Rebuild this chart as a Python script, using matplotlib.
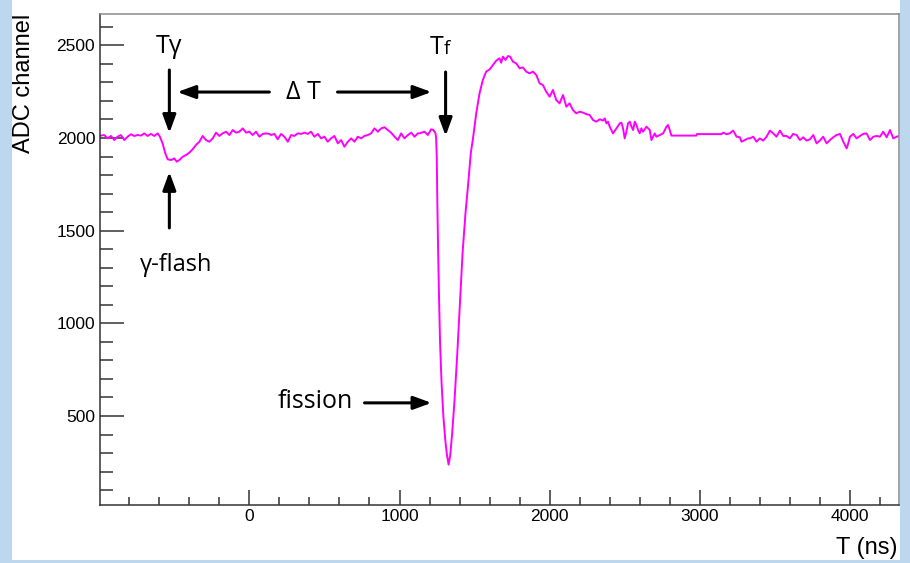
import matplotlib
matplotlib.use("Agg")
import matplotlib.pyplot as plt
from matplotlib.patches import Rectangle
from matplotlib.ticker import MultipleLocator

# waveform: time (ns) and ADC value
t_ns = [-1000, -967, -944, -922, -900, -878, -856, -833, -811, -789, -767, -744, -722, -700,
        -678, -656, -633, -611, -596, -578, -560, -544, -522, -500, -484, -467, -444, -422,
        -400, -378, -356, -333, -311, -289, -267, -244, -222, -200, -178, -156, -133, -111,
        -89, -67, -44, -22, 0, 22, 44, 67, 89, 111, 133,
        144, 167, 189, 211, 233, 256, 278, 300, 322, 344, 367, 389, 411, 433, 456, 478, 500,
        522, 544, 567, 589, 611, 633, 656, 678, 700, 722, 744, 767, 789, 811, 833, 856, 878,
        900, 922, 944, 967, 989, 1011, 1033, 1056, 1078, 1100, 1122,
        1133, 1166, 1189, 1211, 1226, 1240,
        1244, 1248, 1252, 1257, 1263, 1270, 1280, 1292, 1305, 1316, 1327, 1338, 1350, 1366,
        1385, 1402, 1420, 1440, 1456, 1475, 1489,
        1511, 1533, 1555, 1577, 1600, 1622, 1644, 1666, 1677, 1689, 1706, 1722, 1737, 1755,
        1777, 1800, 1822, 1844, 1866, 1889, 1911, 1933, 1955, 1977, 2000, 2022, 2044, 2066,
        2089, 2111, 2133, 2155, 2177, 2200, 2222, 2244,
        2267, 2289, 2311, 2334, 2356, 2367, 2378, 2389, 2400, 2411, 2422, 2445, 2467, 2478,
        2489, 2500, 2511, 2522, 2534, 2545, 2556, 2567, 2578, 2589, 2600, 2611, 2622, 2645,
        2667, 2678, 2689, 2700, 2711, 2734, 2756, 2767, 2778, 2789, 2800, 2811,
        2978, 2980, 3145,
        3156, 3178, 3200, 3222, 3233, 3245, 3267, 3278, 3300, 3322, 3334, 3356, 3378, 3400,
        3422, 3445, 3467, 3489, 3511, 3534, 3556, 3578, 3600, 3622, 3645, 3667, 3689, 3711,
        3734, 3756, 3778, 3800, 3822, 3845, 3867, 3889, 3911, 3934, 3956, 3978, 3989, 4000,
        4022, 4045, 4067, 4089, 4111, 4134, 4156, 4178, 4200, 4222, 4245, 4267, 4289, 4311,
        4329]
adc = [2011, 2016, 1998, 2011, 1989, 2007, 2016, 1989, 2007, 2020, 2011, 2016, 2013, 2025,
       2011, 2022, 2011, 2025, 2007, 1971, 1917, 1885, 1881, 1890, 1872, 1881, 1899, 1908,
       1921, 1939, 1962, 1980, 2011, 1989, 1980, 1998, 2029, 2011, 2025, 2034, 2016, 2043,
       2029, 2034, 2052, 2029, 2034, 2016, 2034, 2007, 2022, 2025, 2022,
       2016, 2022, 1993, 2022, 2007, 1980, 2016, 2011, 2025, 2022, 2029, 2022, 2034, 2007,
       2022, 1998, 2007, 1980, 1998, 2011, 1971, 1989, 1953, 1980, 1998, 1980, 2007, 1998,
       2011, 2016, 2025, 2052, 2034, 2052, 2058, 2043, 2029, 2007, 1989, 2025, 1998, 2016,
       2029, 2007, 2025,
       2025, 2034, 2016, 2047, 2043, 2025,
       1995, 1900, 1650, 1400, 1150, 900, 680, 500, 370, 290, 238, 290, 400, 580,
       840, 1100, 1380, 1600, 1740, 1920, 1995,
       2133, 2241, 2313, 2358, 2370, 2394, 2417, 2430, 2406, 2439, 2421, 2442, 2439, 2412,
       2403, 2376, 2381, 2358, 2349, 2358, 2340, 2295, 2286, 2250, 2223, 2259, 2205, 2187,
       2232, 2169, 2187, 2151, 2133, 2142, 2137, 2129,
       2124, 2097, 2088, 2101, 2094, 2106, 2079, 2088, 2061, 2043, 2025, 2052, 2079, 2083,
       2052, 1998, 2034, 2079, 2088, 2061, 2043, 2088, 2070, 2043, 2025, 2052, 2034, 2061,
       2043, 1989, 2007, 2025, 2007, 2016, 2025, 2043, 2061, 2070, 2043, 2013,
       2013, 2021, 2021,
       2029, 2021, 2025, 2040, 2025, 2007, 2004, 1980, 1989, 1998, 1998, 2007, 1980, 1998,
       1986, 2007, 2040, 2025, 2007, 2040, 2011, 2011, 1998, 2022, 2016, 1989, 2004, 1986,
       1993, 2016, 1971, 1986, 2007, 1971, 1989, 2004, 2016, 2022, 1980, 1944, 1971, 2007,
       2022, 1998, 2011, 2022, 2025, 1989, 2007, 2011, 2007, 2034, 2004, 2043, 1998, 2007,
       2011]

x_ticks = [0, 1000, 2000, 3000, 4000]
y_ticks = [500, 1000, 1500, 2000, 2500]

W, H = 910, 563
fig = plt.figure(figsize=(W / 100, H / 100), dpi=100)
fig.patch.set_facecolor('#BDD7EE')
fig.add_artist(Rectangle((12 / W, 3 / H), 888 / W, 560 / H, transform=fig.transFigure,
                         facecolor='white', edgecolor='none', zorder=-10))

ax = fig.add_axes([100 / W, 58 / H, 799 / W, 491 / H])
ax.plot(t_ns, adc, color='#FF00FF', lw=1.4, zorder=2)

ax.set_xlim(-995, 4327)
ax.set_ylim(20, 2669)
ax.set_xticks(x_ticks)
ax.set_yticks(y_ticks)
ax.xaxis.set_minor_locator(MultipleLocator(200))
ax.yaxis.set_minor_locator(MultipleLocator(100))
for lab in ax.get_xticklabels() + ax.get_yticklabels():
    lab.set_family('Liberation Sans')
ax.tick_params(axis='y', which='major', direction='in', length=17, width=1.1, pad=3.5,
               labelsize=12.5, color='#333333')
ax.tick_params(axis='y', which='minor', direction='in', length=9, width=1.1, color='#333333')
ax.tick_params(axis='x', which='major', direction='in', length=10.8, width=1.1, pad=3,
               labelsize=12.5, color='#333333')
ax.tick_params(axis='x', which='minor', direction='in', length=5.8, width=1.1, color='#333333')
for s in ['left', 'bottom']:
    ax.spines[s].set_color('#333333')
    ax.spines[s].set_linewidth(1.1)
for s in ['top', 'right']:
    ax.spines[s].set_color('#8a8a8a')
    ax.spines[s].set_linewidth(1.1)

fig.text(24 / W, 1 - 14 / H, 'ADC channel', rotation=90, ha='center', va='top',
         fontsize=17, family='Liberation Sans')
fig.text(898 / W, 9 / H, 'T (ns)', ha='right', va='baseline',
         fontsize=17, family='Liberation Sans')

# annotations
fnt = ['Open Sans', 'DejaVu Sans']
aprops = dict(arrowstyle='-|>,head_length=0.6,head_width=0.22', lw=2.2, color='black',
              mutation_scale=18, shrinkA=0, shrinkB=0)


def arrow(x0, y0, x1, y1):
    ax.annotate('', xy=(x1, y1), xytext=(x0, y0), arrowprops=aprops, zorder=3)


ax.text(-533, 2491, 'T\u03b3', ha='center', va='center', fontsize=18, family=fnt)
arrow(-533, 2367, -533, 2027)
arrow(133, 2248, -480, 2248)
ax.text(360, 2248, '\u0394 T', ha='center', va='center', fontsize=18, family=fnt)
arrow(587, 2248, 1213, 2248)
ax.text(1290, 2455, 'T', ha='right', va='baseline', fontsize=18, family=fnt)
ax.text(1293, 2455, 'f', ha='left', va='baseline', fontsize=13.5, family=fnt)
arrow(1307, 2356, 1307, 2011)
arrow(-533, 1515, -533, 1817)
ax.text(-487, 1315, '\u03b3-flash', ha='center', va='center', fontsize=17, family=fnt)
ax.text(440, 581, 'fission', ha='center', va='center', fontsize=18, family=fnt)
arrow(767, 571, 1213, 571)

fig.savefig('out.png', dpi=100, facecolor=fig.get_facecolor())
